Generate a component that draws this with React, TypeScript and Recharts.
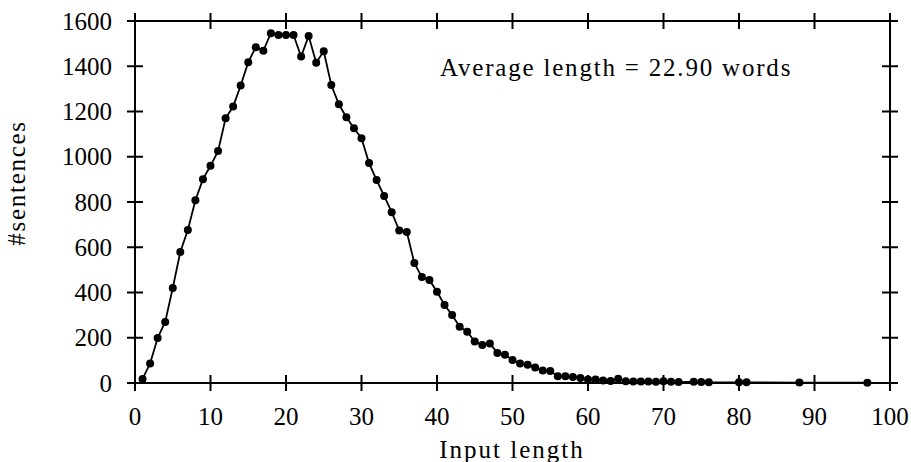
import { LineChart, Line, XAxis, YAxis, ReferenceLine, ReferenceDot } from 'recharts';

// sentence length distribution
const lengths = [
  1, 2, 3, 4, 5, 6, 7, 8, 9, 10,
  11, 12, 13, 14, 15, 16, 17, 18, 19, 20,
  21, 22, 23, 24, 25, 26, 27, 28, 29, 30,
  31, 32, 33, 34, 35, 36, 37, 38, 39, 40,
  41, 42, 43, 44, 45, 46, 47, 48, 49, 50,
  51, 52, 53, 54, 55, 56, 57, 58, 59, 60,
  61, 62, 63, 64, 65, 66, 67, 68, 69, 70,
  71, 72, 74, 75, 76, 80, 81, 88, 97,
];
const counts = [
  18, 86, 199, 270, 420, 579, 676, 808, 901, 960,
  1025, 1170, 1222, 1315, 1418, 1484, 1469, 1546, 1538, 1538,
  1538, 1443, 1534, 1416, 1466, 1317, 1232, 1175, 1126, 1082,
  972, 897, 827, 755, 674, 667, 530, 468, 455, 403,
  345, 301, 249, 227, 183, 168, 175, 133, 125, 102,
  86, 81, 69, 55, 53, 30, 30, 27, 22, 15,
  15, 11, 9, 19, 8, 7, 7, 7, 6, 8,
  6, 4, 6, 4, 3, 3, 3, 2, 1,
];
const xTicks = [0, 10, 20, 30, 40, 50, 60, 70, 80, 90, 100];
const yTicks = [0, 200, 400, 600, 800, 1000, 1200, 1400, 1600];
const note = 'Average length = 22.90 words';

const data = lengths.map((len, i) => ({ len, count: counts[i] }));

const W = 911;
const H = 462;
const M = { top: 21, right: 21, left: 75, bottom: 19 };
const PLOT_RIGHT = W - M.right;
const FONT = 'Liberation Serif, DejaVu Serif, serif';
const txt = { fontFamily: FONT, fontSize: 25, fill: '#000' };

const XTick = ({ x, y, payload }: any) => (
  <g>
    <line x1={x} x2={x} y1={y - 8} y2={y + 8} stroke="#000" strokeWidth={2} />
    <line x1={x} x2={x} y1={M.top - 8} y2={M.top + 8} stroke="#000" strokeWidth={2} />
    <text x={x} y={y + 42} textAnchor="middle" style={txt}>
      {payload.value}
    </text>
  </g>
);

const YTick = ({ x, y, payload }: any) => (
  <g>
    <line x1={x - 8} x2={x + 8} y1={y} y2={y} stroke="#000" strokeWidth={2} />
    <line x1={PLOT_RIGHT - 8} x2={PLOT_RIGHT + 8} y1={y} y2={y} stroke="#000" strokeWidth={2} />
    <text x={x - 23} y={y + 8.5} textAnchor="end" style={txt}>
      {payload.value}
    </text>
  </g>
);

const XTitle = () => (
  <text x={512} y={458} textAnchor="middle" style={{ ...txt, letterSpacing: 2 }}>
    Input length
  </text>
);

const YTitle = () => (
  <text transform="translate(25,183) rotate(-90)" textAnchor="middle" style={{ ...txt, letterSpacing: 1.7 }}>
    #sentences
  </text>
);

const Note = ({ viewBox }: any) => (
  <text x={viewBox.x} y={viewBox.y} style={{ ...txt, letterSpacing: 1.8 }}>
    {note}
  </text>
);

export default function App() {
  return (
    <div style={{ position: 'absolute', left: 0, top: 0, background: '#fff' }}>
      <LineChart width={W} height={H} data={data} margin={M}>
        <XAxis
          dataKey="len"
          type="number"
          domain={[0, 100]}
          ticks={xTicks}
          height={60}
          tickSize={0}
          tickMargin={0}
          tickLine={false}
          axisLine={{ stroke: '#000', strokeWidth: 2 }}
          tick={<XTick />}
          interval={0}
          label={<XTitle />}
        />
        <YAxis
          type="number"
          domain={[0, 1600]}
          ticks={yTicks}
          width={60}
          tickSize={0}
          tickMargin={0}
          tickLine={false}
          axisLine={{ stroke: '#000', strokeWidth: 2 }}
          tick={<YTick />}
          interval={0}
          label={<YTitle />}
        />
        <ReferenceLine y={1600} stroke="#000" strokeWidth={2} />
        <ReferenceLine x={100} stroke="#000" strokeWidth={2} />
        <ReferenceDot x={40.4} y={1357} r={0} fill="none" stroke="none" label={<Note />} />
        <Line
          dataKey="count"
          stroke="#000"
          strokeWidth={1.8}
          dot={{ r: 4, fill: '#000', stroke: '#000', strokeWidth: 0 }}
          isAnimationActive={false}
        />
      </LineChart>
    </div>
  );
}
